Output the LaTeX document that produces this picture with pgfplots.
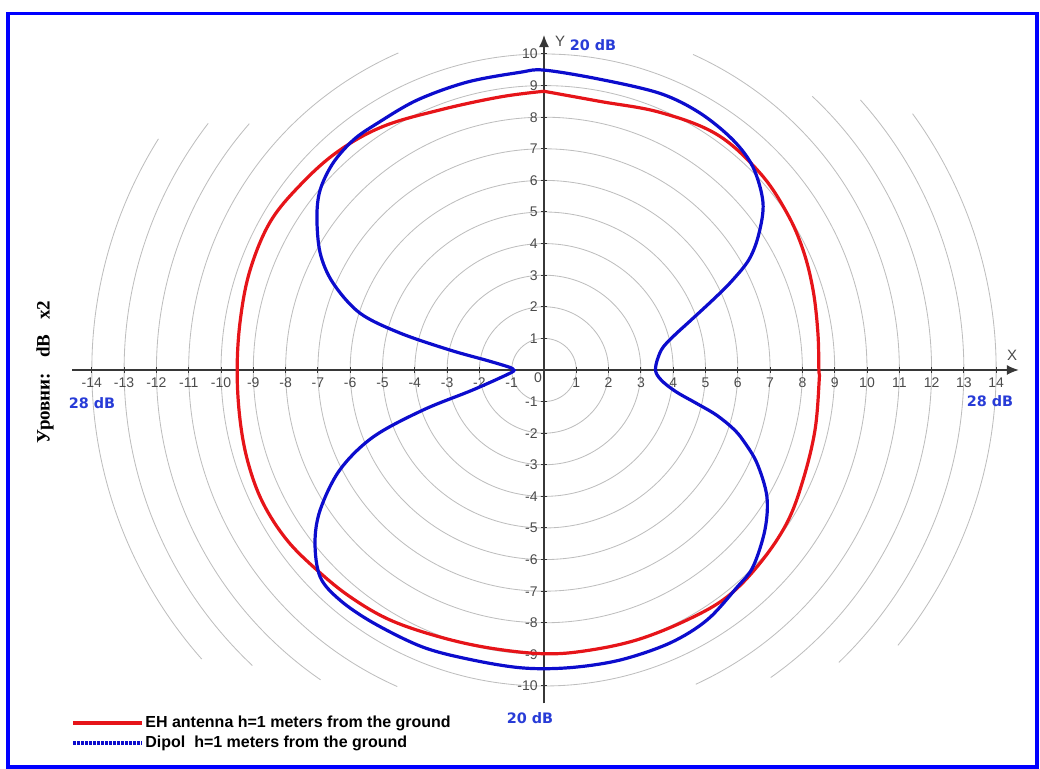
\documentclass[border=0pt]{standalone}
\usepackage{pgfplots}
\pgfplotsset{compat=1.18}
\usetikzlibrary{arrows.meta}
\usepackage{fontspec}
\setmainfont{Liberation Sans}
\newfontfamily\serifcyr{Liberation Serif}
\newfontfamily\dejavu{DejaVu Sans}
\definecolor{cred}{RGB}{230,20,25}
\definecolor{cblue}{RGB}{12,12,205}
\definecolor{lblue}{RGB}{40,60,215}
\definecolor{frameblue}{RGB}{0,0,255}
\definecolor{gridc}{RGB}{190,190,190}
\definecolor{axc}{RGB}{55,55,55}
\definecolor{tickc}{RGB}{75,75,75}
\begin{document}
\begin{tikzpicture}
\useasboundingbox (0,0) rectangle (520pt,384.5pt);
% polar grid circles (origin at 272pt,199.5pt)
\begin{scope}[gridc, line width=0.42pt]
\foreach \r in {1,...,10} \draw (272pt,199.5pt) ellipse [x radius=\r*16.15pt, y radius=\r*15.8pt];
% partial circles 11..14: right and left arcs
\draw (272pt,199.5pt) ++(-64.7:177.65pt and 173.8pt) arc [start angle=-64.7, end angle=65.2, x radius=177.65pt, y radius=173.8pt];
\draw (272pt,199.5pt) ++(114.2:177.65pt and 173.8pt) arc [start angle=114.2, end angle=245.6, x radius=177.65pt, y radius=173.8pt];
\draw (272pt,199.5pt) ++(-54.2:193.8pt and 189.6pt) arc [start angle=-54.2, end angle=46.2, x radius=193.8pt, y radius=189.6pt];
\draw (272pt,199.5pt) ++(139.5:193.8pt and 189.6pt) arc [start angle=139.5, end angle=234.8, x radius=193.8pt, y radius=189.6pt];
\draw (272pt,199.5pt) ++(-45.4:209.95pt and 205.4pt) arc [start angle=-45.4, end angle=41.1, x radius=209.95pt, y radius=205.4pt];
\draw (272pt,199.5pt) ++(143.1:209.95pt and 205.4pt) arc [start angle=143.1, end angle=226, x radius=209.95pt, y radius=205.4pt];
\draw (272pt,199.5pt) ++(-38.5:226.1pt and 221.2pt) arc [start angle=-38.5, end angle=35.4, x radius=226.1pt, y radius=221.2pt];
\draw (272pt,199.5pt) ++(148.5:226.1pt and 221.2pt) arc [start angle=148.5, end angle=220.8, x radius=226.1pt, y radius=221.2pt];
\end{scope}
\begin{axis}[
  x=16.15pt, y=15.8pt,
  at={(272pt,199.5pt)}, anchor=origin,
  xmin=-14.6, xmax=14.7, ymin=-10.55, ymax=10.6,
  axis lines=middle,
  axis line style={axc, line width=0.7pt},
  x axis line style={-{Latex[length=6pt,width=5pt]}},
  y axis line style={-{Latex[length=6pt,width=5pt]}},
  xtick={-14,-13,-12,-11,-10,-9,-8,-7,-6,-5,-4,-3,-2,-1,1,2,3,4,5,6,7,8,9,10,11,12,13,14},
  xticklabels={-14,-13,-12,-11,-10,-9,-8,-7,-6,-5,-4,-3,-2,-1,1,2,3,4,5,6,7,8,9,10,11,12,13,14},
  ytick={-10,-9,-8,-7,-6,-5,-4,-3,-2,-1,1,2,3,4,5,6,7,8,9,10},
  yticklabels={-10,-9,-8,-7,-6,-5,-4,-3,-2,-1,1,2,3,4,5,6,7,8,9,10},
  tick align=center, major tick length=3pt,
  tick style={axc, line width=0.5pt},
  ticklabel style={font=\fontsize{7}{8}\selectfont, text=tickc},
  xticklabel style={inner sep=1.5pt, yshift=-0.5pt},
  yticklabel style={inner sep=1.5pt},
  clip=false,
]
\addplot[cred, line width=1.6pt, smooth, tension=0.6] coordinates {
(0,8.82) (-1.36,8.64) (-3.22,8.23) (-5.0,7.7) (-6.4,6.9) (-7.55,5.85) (-8.48,4.68)
(-9.1,3.16) (-9.4,1.6) (-9.5,0) (-9.41,-1.58) (-9.16,-2.94) (-8.7,-4.21) (-7.96,-5.38)
(-7.03,-6.33) (-6.0,-7.18) (-4.77,-7.91) (-3.22,-8.45) (-1.67,-8.8) (0,-8.98) (1.33,-8.88)
(2.88,-8.54) (4.43,-7.91) (5.67,-7.18) (6.69,-6.11) (7.52,-4.84) (8.02,-3.48) (8.39,-1.9)
(8.52,-0.32) (8.51,0) (8.48,1.17) (8.33,2.53) (8.02,3.8) (7.52,4.97) (6.69,6.23)
(5.36,7.45) (3.6,8.15) (1.73,8.5) (0,8.82)
};
\addplot[cblue, line width=1.6pt, smooth, tension=0.55] coordinates {
(-0.95,0) (-1.05,-0.1) (-2.2,-0.63) (-3.75,-1.27) (-5.29,-2.12) (-6.32,-3.16) (-6.93,-4.43)
(-7.09,-5.47) (-6.93,-6.55) (-6.32,-7.28) (-5.29,-8.0) (-3.75,-8.77) (-2.2,-9.18) (-0.65,-9.43)
(0.8,-9.42) (2.35,-9.18) (3.9,-8.64) (5.05,-7.91) (5.98,-6.87) (6.47,-6.23) (6.84,-5.06)
(6.9,-4.0) (6.59,-2.94) (6.16,-2.22) (5.85,-1.85) (5.33,-1.42) (4.71,-1.05) (4.09,-0.69)
(3.63,-0.32) (3.45,0.03) (3.63,0.63) (3.99,1.05) (4.5,1.53) (5.23,2.22) (5.8,2.8)
(6.35,3.5) (6.65,4.3) (6.78,5.3) (6.47,6.42) (5.85,7.28) (4.83,8.13) (3.6,8.75)
(1.73,9.2) (0,9.49) (-0.74,9.42) (-2.38,9.11) (-3.93,8.54) (-5.17,7.8) (-5.9,7.28)
(-6.53,6.55) (-6.93,5.7) (-7.03,4.84) (-6.93,3.7) (-6.53,2.75) (-5.7,1.8) (-4.46,1.17)
(-2.91,0.63) (-1.76,0.3) (-1.05,0.08) (-0.95,0)
};
\end{axis}
% origin label and axis names
\node[font=\fontsize{7}{8}\selectfont, text=tickc] at (269pt,195.5pt) {0};
\node[font=\fontsize{7.5}{8}\selectfont, text=tickc] at (280pt,364pt) {Y};
\node[font=\fontsize{7.5}{8}\selectfont, text=tickc] at (506pt,207pt) {X};
% dB labels
\begin{scope}[font=\dejavu\bfseries\fontsize{7.2}{8}\selectfont, text=lblue]
\node at (296.5pt,362pt) {20 dB};
\node at (265pt,25.5pt) {20 dB};
\node at (46pt,183pt) {28 dB};
\node at (495pt,184pt) {28 dB};
\end{scope}
% rotated label
\node[rotate=90, font=\serifcyr\bfseries\fontsize{9.5}{10}\selectfont] at (22.5pt,198.5pt) {Уровни:\hspace{7.5pt}dB\hspace{7.5pt}x2};
% legend
\draw[cred, line width=1.6pt] (36.5pt,23pt) -- (71pt,23pt);
\draw[cblue, line width=1.6pt, dash pattern=on 1.6pt off 0.4pt] (36.5pt,13pt) -- (71pt,13pt);
\node[anchor=west, inner sep=0pt, font=\bfseries\fontsize{8}{9}\selectfont] at (72.5pt,23pt) {EH antenna h=1 meters from the ground};
\node[anchor=west, inner sep=0pt, font=\bfseries\fontsize{8}{9}\selectfont] at (72.5pt,13pt) {Dipol\ \ h=1 meters from the ground};
% frame
\draw[frameblue, line width=1.6pt] (4pt,1pt) rectangle (518.5pt,377.75pt);
\end{tikzpicture}
\end{document}
